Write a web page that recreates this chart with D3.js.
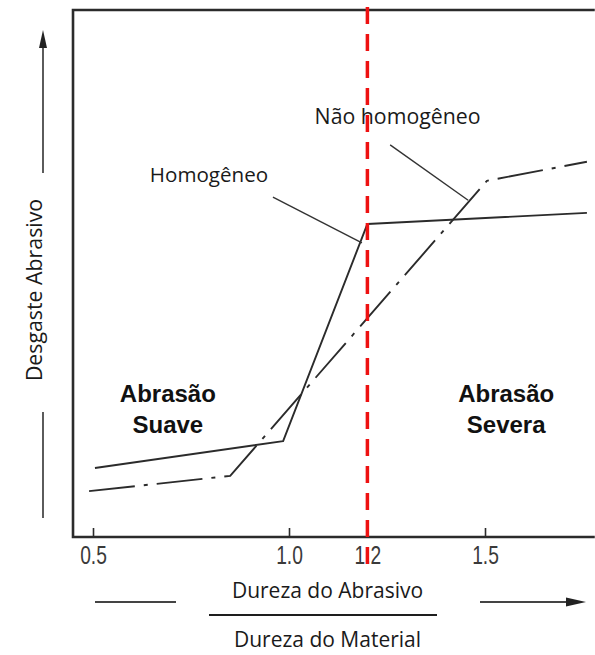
<!DOCTYPE html>
<html>
<head>
<meta charset="utf-8">
<script src="https://cdn.jsdelivr.net/npm/d3@7"></script>
<style>
  html, body { margin: 0; padding: 0; background: #fff; }
  svg { display: block; }
</style>
</head>
<body>
<svg id="chart" width="595" height="655"></svg>
<script>
// Hardness ratio (abrasive / material) on the x axis, relative wear on the y axis.
const tickValues = [0.5, 1.0, 1.2, 1.5];
const criticalRatio = 1.2;

// Homogeneous material: solid curve
const homogeneoX = [0.505, 0.985, 1.2, 1.76];
const homogeneoY = [13.1, 18.2, 59.4, 61.5];

// Non-homogeneous material: dash-dot curve
const naoHomogeneoX = [0.49, 0.85, 1.505, 1.76];
const naoHomogeneoY = [8.7, 11.6, 67.6, 71.2];

// Leader lines from the labels to the curves
const leaderHomogeneo = [[0.959, 64.5], [1.186, 55.8]];
const leaderNaoHomogeneo = [[1.258, 74.4], [1.457, 63.9]];

const W = 595, H = 655;
const svg = d3.select("#chart");

const x = d3.scaleLinear().domain([0.5, 1.5]).range([93, 485]);
const y = d3.scaleLinear().domain([0, 100]).range([537, 10]);

const xLeft = 0.449, xRight = 1.78;
const ink = "#2b2b2b";

// Plot frame (open on the right)
svg.append("path")
  .attr("d", d3.line()([[x(xRight), y(100)], [x(xLeft), y(100)], [x(xLeft), y(0)], [x(xRight), y(0)]]))
  .attr("fill", "none")
  .attr("stroke", ink)
  .attr("stroke-width", 2.6);

// Bottom axis with inward ticks
const axis = d3.axisBottom(x)
  .tickValues(tickValues)
  .tickFormat(d3.format(".1f"))
  .tickSizeInner(-9)
  .tickSizeOuter(0)
  .tickPadding(9);

const gAxis = svg.append("g")
  .attr("transform", `translate(0,${y(0)})`)
  .call(axis);
gAxis.select(".domain").remove();
gAxis.selectAll(".tick line").attr("stroke", ink).attr("stroke-width", 1.6);
gAxis.selectAll(".tick text")
  .attr("fill", "#3a3a3a")
  .attr("font-family", "'Liberation Sans', Arial, sans-serif")
  .attr("font-size", 26)
  .attr("transform", "scale(0.74,1)");

// Curves
const line = d3.line().x(d => x(d[0])).y(d => y(d[1]));

svg.append("path")
  .datum(d3.zip(homogeneoX, homogeneoY))
  .attr("d", line)
  .attr("fill", "none")
  .attr("stroke", ink)
  .attr("stroke-width", 1.9)
  .attr("stroke-linejoin", "round");

svg.append("path")
  .datum(d3.zip(naoHomogeneoX, naoHomogeneoY))
  .attr("d", line)
  .attr("fill", "none")
  .attr("stroke", ink)
  .attr("stroke-width", 1.9)
  .attr("stroke-dasharray", "46,9,4,9");

// Leader lines
[leaderHomogeneo, leaderNaoHomogeneo].forEach(seg => {
  svg.append("path")
    .attr("d", line(seg))
    .attr("stroke", "#333")
    .attr("stroke-width", 1.4)
    .attr("fill", "none");
});

// Curve labels
const labelFont = "'Open Sans', 'Noto Sans', sans-serif";
svg.append("text")
  .attr("x", x(0.796)).attr("y", y(67.4))
  .attr("text-anchor", "middle")
  .attr("font-family", labelFont).attr("font-size", 20.6)
  .attr("fill", "#1a1a1a")
  .text("Homogêneo");

svg.append("text")
  .attr("x", x(1.277)).attr("y", y(78.4))
  .attr("text-anchor", "middle")
  .attr("font-family", labelFont).attr("font-size", 21.3)
  .attr("fill", "#1a1a1a")
  .text("Não homogêneo");

// Regime labels
function regime(cx, lines) {
  const t = svg.append("text")
    .attr("text-anchor", "middle")
    .attr("font-family", "'Liberation Sans', Arial, sans-serif")
    .attr("font-weight", "bold")
    .attr("font-size", 24)
    .attr("fill", "#111");
  lines.forEach((s, i) => {
    t.append("tspan").attr("x", x(cx)).attr("y", y(25.6) + i * 31).text(s);
  });
}
regime(0.691, ["Abrasão", "Suave"]);
regime(1.554, ["Abrasão", "Severa"]);

// Critical ratio marker
svg.append("line")
  .attr("x1", x(criticalRatio)).attr("x2", x(criticalRatio))
  .attr("y1", 7).attr("y2", 573)
  .attr("stroke", "#ee1111")
  .attr("stroke-width", 3.5)
  .attr("stroke-dasharray", "17,10");

// Y axis title with arrow
svg.append("text")
  .attr("transform", "translate(42,290) rotate(-90)")
  .attr("text-anchor", "middle")
  .attr("font-family", labelFont).attr("font-size", 21.3)
  .attr("fill", "#1a1a1a")
  .text("Desgaste Abrasivo");

svg.append("line")
  .attr("x1", 43).attr("x2", 43).attr("y1", 173).attr("y2", 44)
  .attr("stroke", "#333").attr("stroke-width", 1.6);
svg.append("path")
  .attr("d", "M43,30 L47,48 L39,48 Z")
  .attr("fill", "#222");
svg.append("line")
  .attr("x1", 43).attr("x2", 43).attr("y1", 412).attr("y2", 518)
  .attr("stroke", "#333").attr("stroke-width", 1.6);

// X axis title as a fraction with arrow
svg.append("text")
  .attr("x", 327.5).attr("y", 598)
  .attr("text-anchor", "middle")
  .attr("font-family", labelFont).attr("font-size", 21)
  .attr("fill", "#1a1a1a")
  .text("Dureza do Abrasivo");
svg.append("line")
  .attr("x1", 209).attr("x2", 437).attr("y1", 615).attr("y2", 615)
  .attr("stroke", "#1e1e1e").attr("stroke-width", 1.8);
svg.append("text")
  .attr("x", 327.5).attr("y", 647)
  .attr("text-anchor", "middle")
  .attr("font-family", labelFont).attr("font-size", 21)
  .attr("fill", "#1a1a1a")
  .text("Dureza do Material");

svg.append("line")
  .attr("x1", 95).attr("x2", 176).attr("y1", 602).attr("y2", 602)
  .attr("stroke", "#444").attr("stroke-width", 2);
svg.append("line")
  .attr("x1", 480).attr("x2", 570).attr("y1", 602).attr("y2", 602)
  .attr("stroke", "#444").attr("stroke-width", 2);
svg.append("path")
  .attr("d", "M586,602 L566,597.5 L566,606.5 Z")
  .attr("fill", "#222");
</script>
</body>
</html>
